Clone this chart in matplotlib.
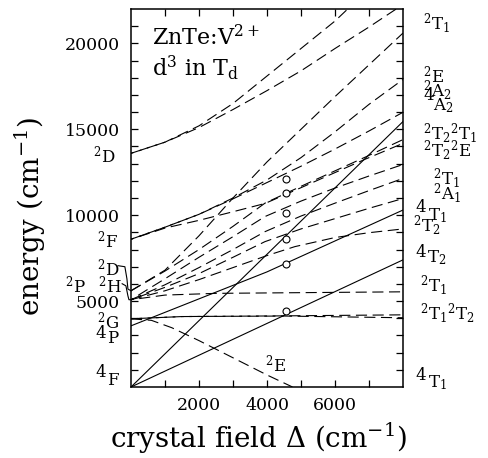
import matplotlib
matplotlib.use('Agg')
import matplotlib.pyplot as plt

plt.rcParams['font.family'] = 'DejaVu Serif'
plt.rcParams['mathtext.fontset'] = 'dejavuserif'

W, H = 489, 458

# ---- data (crystal field, energy in cm-1) ----
# quartets (solid)
q_4T2_x = [0, 8000]
q_4T2_y = [0, 7400]
q_4A2_x = [0, 8000]
q_4A2_y = [0, 15450]
q_4T1P_x = [0, 4000, 8000]
q_4T1P_y = [3560, 6700, 10300]

# doublets (dashed)
d_2E_x = [0, 600, 1200, 2000, 3000, 4000, 4750]
d_2E_y = [3970, 3880, 3450, 2700, 1700, 700, 0]
d_flat1_x = [0, 1500, 4500, 8000]
d_flat1_y = [3970, 4100, 4140, 4200]
d_flat2_x = [0, 1500, 4500, 8000]
d_flat2_y = [3970, 4100, 4130, 4030]
d_flat3_x = [0, 1000, 2500, 8000]
d_flat3_y = [5080, 5350, 5450, 5540]
d_Da_x = [0, 1000, 2000, 3000, 4000, 5000, 6000, 6400]
d_Da_y = [13600, 14250, 15200, 16500, 18100, 19700, 21300, 22050]
d_Db_x = [0, 1000, 2000, 3000, 4000, 5000, 6000, 7000, 7800]
d_Db_y = [13600, 14250, 15100, 16150, 17250, 18400, 19700, 20950, 22000]
d_S1_x = [0, 1000, 2000, 3000, 4000, 5000, 6000, 7000, 8000]
d_S1_y = [5600, 6800, 8800, 11000, 13100, 15000, 16900, 18750, 20600]
d_Fa_x = [0, 1000, 2000, 3000, 4000, 5000, 6000, 7000, 8000]
d_Fa_y = [8600, 9300, 10050, 10950, 11900, 12850, 13850, 14900, 15990]
d_FB_x = [0, 1000, 2000, 3000, 4000, 5000, 6000, 7000, 8000]
d_FB_y = [8600, 9300, 10050, 11000, 12050, 13350, 14850, 16450, 17900]
d_Fb_x = [0, 1000, 2000, 3000, 3940, 5000, 6000, 6880, 8000]
d_Fb_y = [8600, 9250, 9700, 10200, 10680, 11600, 12480, 13250, 14180]
d_G1_x = [0, 1000, 2000, 3000, 3940, 5000, 6000, 6880, 8000]
d_G1_y = [5600, 6750, 8000, 9350, 10700, 11680, 12580, 13370, 14400]
d_L1_x = [0, 1000, 2000, 3000, 3940, 5000, 6000, 7000, 8000]
d_L1_y = [5080, 6300, 7550, 8750, 9920, 10820, 11580, 12280, 12950]
d_L2_x = [0, 1000, 2000, 3000, 3940, 5000, 6000, 7000, 8000]
d_L2_y = [5080, 5950, 6950, 8000, 9040, 9950, 10700, 11430, 12140]
d_L3_x = [0, 1000, 2000, 3000, 3940, 5000, 6000, 7000, 8000]
d_L3_y = [5080, 5800, 6600, 7550, 8460, 9200, 9800, 10400, 10970]
d_H_x = [0, 1000, 2000, 3000, 4000, 4820, 6000, 7000, 8000]
d_H_y = [5080, 5600, 6250, 6950, 7650, 8170, 8700, 8980, 9200]

# observed transitions
meas_x = [4560, 4560, 4560, 4560, 4560, 4560]
meas_y = [4435, 7180, 8640, 10100, 11300, 12080]

# brackets from 2D / 2H labels to the axis
brD_x = [-380, -180, -120, -90, 0]
brD_y = [7060, 7000, 6300, 5700, 5600]
brH_x = [-260, -150, -90, -60, 0]
brH_y = [6010, 5890, 5300, 5080, 5080]

fig = plt.figure(figsize=(W / 100, H / 100), dpi=100)
ax = fig.add_axes([131 / W, 1 - 387 / H, 272 / W, 378 / H])

solid = [(q_4T2_x, q_4T2_y), (q_4A2_x, q_4A2_y), (q_4T1P_x, q_4T1P_y)]
dashed = [(d_2E_x, d_2E_y), (d_flat1_x, d_flat1_y), (d_flat2_x, d_flat2_y),
          (d_flat3_x, d_flat3_y), (d_Da_x, d_Da_y), (d_Db_x, d_Db_y),
          (d_S1_x, d_S1_y), (d_Fa_x, d_Fa_y), (d_FB_x, d_FB_y),
          (d_Fb_x, d_Fb_y), (d_G1_x, d_G1_y), (d_L1_x, d_L1_y),
          (d_L2_x, d_L2_y), (d_L3_x, d_L3_y), (d_H_x, d_H_y)]

for x, y in solid:
    ax.plot(x, y, color='black', lw=0.8)
# alternate dash phase so coincident curves look solid
for i, (x, y) in enumerate(dashed):
    ax.plot(x, y, color='black', lw=0.8, linestyle=((i % 2) * 7.5, (10, 5)))

ax.plot(meas_x, meas_y, 'o', mfc='white', mec='black', ms=5, mew=0.8)

ax.plot(brD_x, brD_y, color='black', lw=0.8, clip_on=False)
ax.plot(brH_x, brH_y, color='black', lw=0.8, clip_on=False)

ax.set_xlim(0, 8000)
ax.set_ylim(0, 22000)
ax.set_xticks([2000, 4000, 6000])
ax.set_xticks([1000, 3000, 5000, 7000], minor=True)
ax.set_yticks([5000, 10000, 15000, 20000])
ax.set_yticks(range(1000, 22000, 1000), minor=True)
ax.tick_params(which='both', direction='in', top=True, right=True,
               length=5, width=0.9, labelsize=12.5)
ax.tick_params(axis='x', pad=7)
ax.tick_params(axis='y', pad=8)
for s in ax.spines.values():
    s.set_linewidth(1.1)

ax.set_xlabel(r'crystal field $\Delta$ (cm$^{-1}$)', fontsize=20)
ax.set_ylabel(r'energy (cm$^{-1}$)', fontsize=20)
ax.xaxis.set_label_coords(0.47, -0.09)
ax.yaxis.set_label_coords(-0.305, 0.45)


def txt(px, py, s, size=12):
    fig.text(px / W, 1 - py / H, s, fontsize=size, va='baseline', ha='left')


def doublet(px, py, s):
    txt(px, py, s)


def quartet(px4, py4, px, py, s):
    txt(px4, py4, '4')
    txt(px, py, s)


fig.text(152 / W, 1 - 45 / H, r'ZnTe:V$^{2+}$', fontsize=16, va='baseline')
fig.text(152 / W, 1 - 76 / H, r'd$^{3}$ in T$_{\mathrm{d}}$', fontsize=16, va='baseline')

# right side labels
doublet(423, 30, r'$^{2}\mathrm{T}_{1}$')
doublet(423, 82, r'$^{2}\mathrm{E}$')
doublet(423, 97, r'$^{2}\mathrm{A}_{2}$')
quartet(423, 100, 433, 110, r'$\mathrm{A}_{2}$')
doublet(423, 140, r'$^{2}\mathrm{T}_{2}{}^{2}\mathrm{T}_{1}$')
doublet(423, 157, r'$^{2}\mathrm{T}_{2}{}^{2}\mathrm{E}$')
doublet(433, 185, r'$^{2}\mathrm{T}_{1}$')
doublet(433, 200, r'$^{2}\mathrm{A}_{1}$')
quartet(415, 212, 428, 220, r'$\mathrm{T}_{1}$')
doublet(413, 232, r'$^{2}\mathrm{T}_{2}$')
quartet(415, 257, 427, 262, r'$\mathrm{T}_{2}$')
doublet(420, 292, r'$^{2}\mathrm{T}_{1}$')
doublet(420, 320, r'$^{2}\mathrm{T}_{1}{}^{2}\mathrm{T}_{2}$')
quartet(415, 380, 428, 387, r'$\mathrm{T}_{1}$')

# left side labels (free ion terms)
doublet(93, 162, r'$^{2}\mathrm{D}$')
doublet(97, 247, r'$^{2}\mathrm{F}$')
doublet(97, 275, r'$^{2}\mathrm{D}$')
doublet(65, 292, r'$^{2}\mathrm{P}$')
doublet(98, 292, r'$^{2}\mathrm{H}$')
doublet(97, 328, r'$^{2}\mathrm{G}$')
quartet(95, 338, 107, 343, r'$\mathrm{P}$')
quartet(95, 377, 107, 385, r'$\mathrm{F}$')

# falling 2E branch
doublet(265, 371, r'$^{2}\mathrm{E}$')

fig.savefig('out.png', dpi=100)
